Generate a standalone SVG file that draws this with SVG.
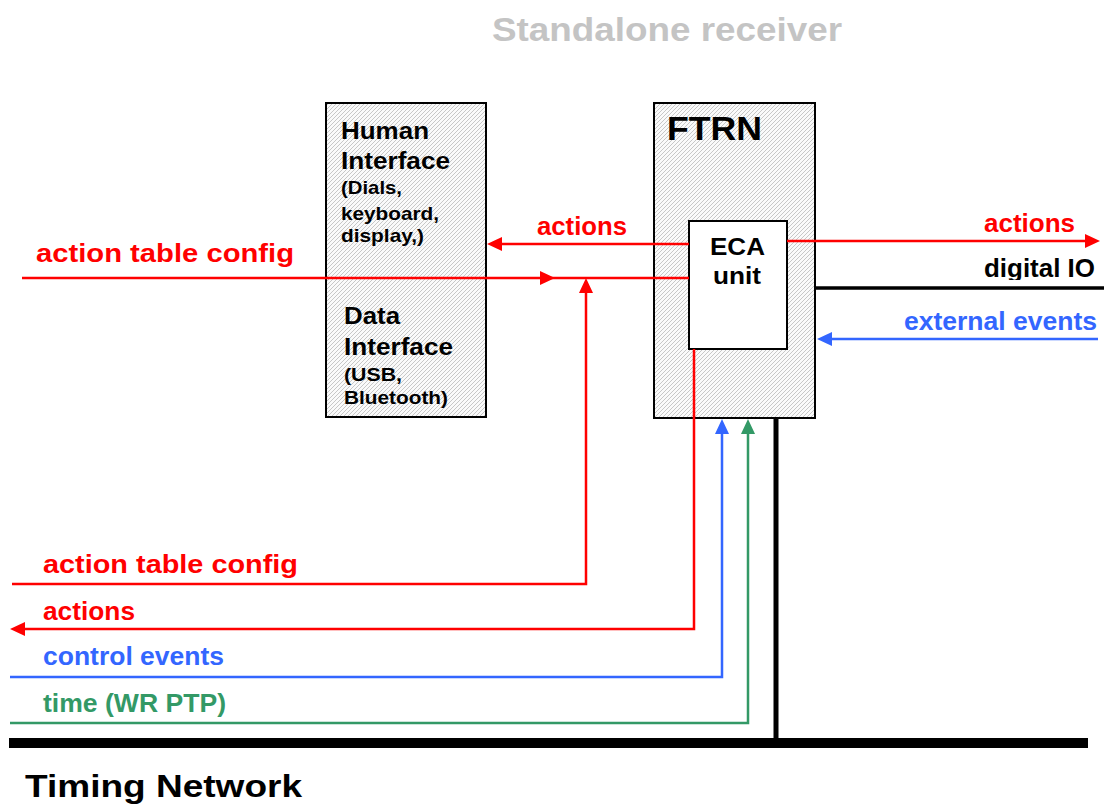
<svg xmlns="http://www.w3.org/2000/svg" width="1104" height="810" viewBox="0 0 1104 810">
<defs>
<pattern id="hatch" patternUnits="userSpaceOnUse" width="4" height="4">
<rect width="4" height="4" fill="#fafafa"/>
<path d="M-1,1 l2,-2 M0,4 l4,-4 M3,5 l2,-2" stroke="#c2c2c2" stroke-width="0.9"/>
</pattern>
<clipPath id="dioClip"><rect x="900" y="240" width="204" height="40"/></clipPath>
<style>
text{font-family:"Liberation Sans",Arial,Helvetica,sans-serif;font-weight:bold;}
.box{fill:url(#hatch);stroke:#000;stroke-width:2;}
.eca{fill:#fff;stroke:#000;stroke-width:2;}
.red{stroke:#ff0000;stroke-width:2.5;fill:none;}
.blue{stroke:#3366ff;stroke-width:2.5;fill:none;}
.green{stroke:#339966;stroke-width:2.5;fill:none;}
.blk{stroke:#000;fill:none;}
.tr{fill:#ff0000;}
.tb{fill:#3366ff;}
.tg{fill:#339966;}
.lr{fill:#ff0000;font-size:25px;}
.lb{fill:#3366ff;font-size:25px;}
.lg{fill:#339966;font-size:25px;}
.big{font-size:24.5px;fill:#000;}
.small{font-size:19px;fill:#000;}
</style>
</defs>
<rect width="1104" height="810" fill="#fff"/>

<text x="492" y="41" font-size="34" fill="#c4c4c4" textLength="350" lengthAdjust="spacingAndGlyphs">Standalone receiver</text>

<g id="human-data-interface">
<rect class="box" x="326" y="103" width="160" height="314"/>
<text class="big" x="341" y="139" textLength="88" lengthAdjust="spacingAndGlyphs">Human</text>
<text class="big" x="341" y="169" textLength="109" lengthAdjust="spacingAndGlyphs">Interface</text>
<text class="small" x="341" y="194" textLength="61" lengthAdjust="spacingAndGlyphs">(Dials,</text>
<text class="small" x="341" y="220" textLength="98" lengthAdjust="spacingAndGlyphs">keyboard,</text>
<text class="small" x="341" y="242" textLength="83" lengthAdjust="spacingAndGlyphs">display,)</text>
<text class="big" x="344" y="324" textLength="56" lengthAdjust="spacingAndGlyphs">Data</text>
<text class="big" x="344" y="355" textLength="109" lengthAdjust="spacingAndGlyphs">Interface</text>
<text class="small" x="344" y="381" textLength="58" lengthAdjust="spacingAndGlyphs">(USB,</text>
<text class="small" x="344" y="404" textLength="104" lengthAdjust="spacingAndGlyphs">Bluetooth)</text>
</g>

<g id="ftrn">
<rect class="box" x="654" y="103" width="161" height="315"/>
<text x="667" y="140" font-size="33" fill="#000" textLength="95" lengthAdjust="spacingAndGlyphs">FTRN</text>
</g>

<g id="eca-unit">
<rect class="eca" x="689" y="221" width="98" height="128"/>
<text class="big" x="710" y="255" textLength="55" lengthAdjust="spacingAndGlyphs">ECA</text>
<text class="big" x="713" y="284" textLength="48" lengthAdjust="spacingAndGlyphs">unit</text>
</g>

<g id="connectors">
<line class="red" x1="22" y1="278" x2="689" y2="278"/>
<polygon class="tr" points="555,278 540,271 540,285"/>
<line class="red" x1="689" y1="244" x2="500" y2="244"/>
<polygon class="tr" points="487,244 502,237 502,251"/>
<polyline class="red" points="12,584 586,584 586,292"/>
<polygon class="tr" points="586,278 579,293 593,293"/>
<polyline class="red" points="694,349 694,629 24,629"/>
<polygon class="tr" points="10,629 25,622 25,636"/>
<line class="red" x1="787" y1="241" x2="1088" y2="241"/>
<polygon class="tr" points="1100,241 1085,234 1085,248"/>
<line class="blk" x1="815" y1="288" x2="1104" y2="288" stroke-width="3.5"/>
<line class="blue" x1="1098" y1="339" x2="830" y2="339"/>
<polygon class="tb" points="817,339 832,332 832,346"/>
<polyline class="blue" points="10,677 722,677 722,432"/>
<polygon class="tb" points="722,419 715,434 729,434"/>
<polyline class="green" points="10,723 748,723 748,432"/>
<polygon class="tg" points="748,419 741,434 755,434"/>
<line class="blk" x1="776" y1="418" x2="776" y2="742" stroke-width="5"/>
<line class="blk" x1="9" y1="743" x2="1088" y2="743" stroke-width="10"/>
</g>

<g id="labels">
<text class="lr" x="36" y="262" textLength="258" lengthAdjust="spacingAndGlyphs">action table config</text>
<text class="lr" x="537" y="235" textLength="90" lengthAdjust="spacingAndGlyphs">actions</text>
<text class="lr" x="984" y="232" textLength="91" lengthAdjust="spacingAndGlyphs">actions</text>
<text x="984" y="277" font-size="25" fill="#000" textLength="111" lengthAdjust="spacingAndGlyphs" clip-path="url(#dioClip)">digital IO</text>
<text class="lb" x="904" y="330" textLength="193" lengthAdjust="spacingAndGlyphs">external events</text>
<text class="lr" x="43" y="573" textLength="255" lengthAdjust="spacingAndGlyphs">action table config</text>
<text class="lr" x="43" y="620" textLength="92" lengthAdjust="spacingAndGlyphs">actions</text>
<text class="lb" x="43" y="665" textLength="181" lengthAdjust="spacingAndGlyphs">control events</text>
<text class="lg" x="43" y="712" textLength="183" lengthAdjust="spacingAndGlyphs">time (WR PTP)</text>
<text x="25" y="797" font-size="32" fill="#000" textLength="277" lengthAdjust="spacingAndGlyphs">Timing Network</text>
</g>
</svg>
